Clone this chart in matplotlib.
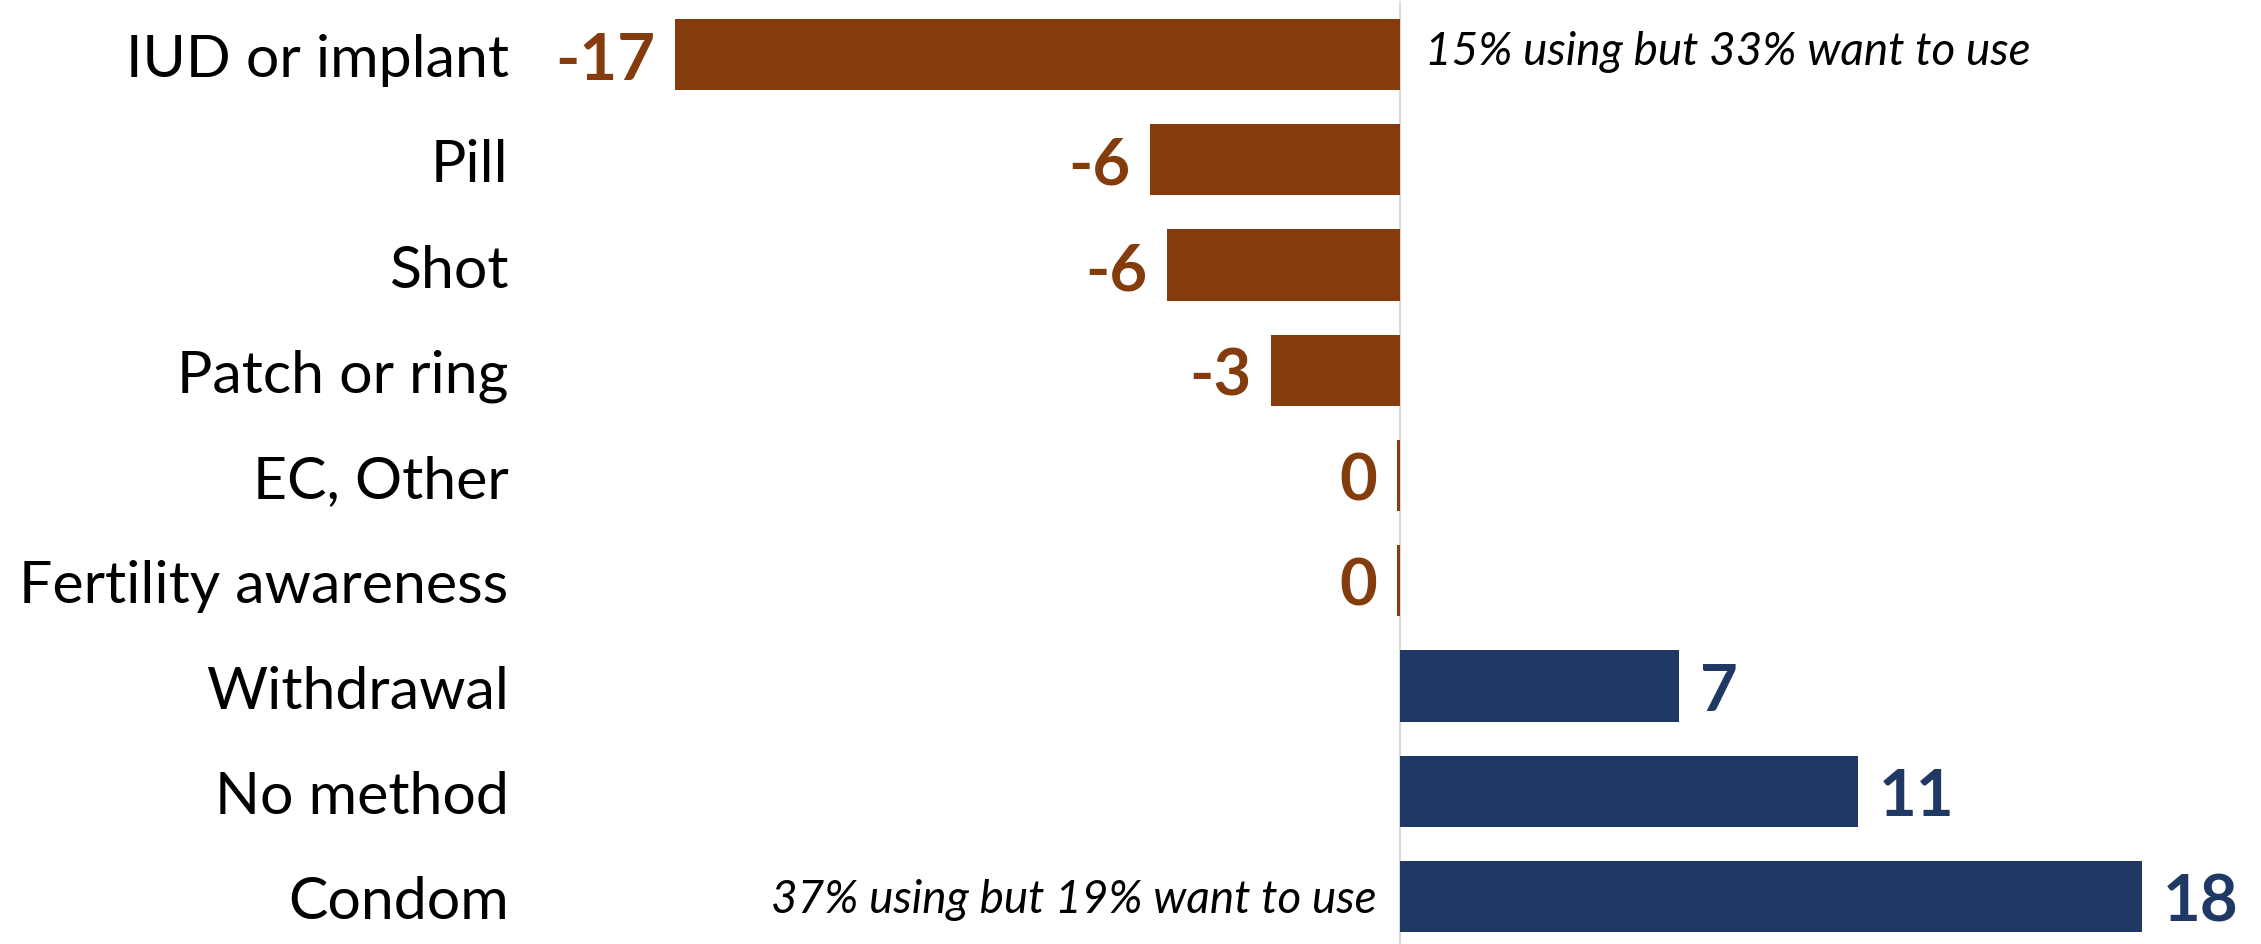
import matplotlib.pyplot as plt

plt.rcParams['font.family'] = ['Lato', 'DejaVu Sans']

# gap between share wanting a method and share using it (percentage points)
methods = ['IUD or implant', 'Pill', 'Shot', 'Patch or ring', 'EC, Other',
           'Fertility awareness', 'Withdrawal', 'No method', 'Condom']
gap = [-17.4, -6.0, -5.6, -3.1, -0.08, -0.08, 6.7, 11.0, 17.8]
note_methods = ['IUD or implant', 'Condom']
note_texts = ['15% using but 33% want to use', '37% using but 19% want to use']

brown = '#843C0C'
navy = '#203864'

W, H = 2261, 945
fig = plt.figure(figsize=(W / 100, H / 100), dpi=100)

# pixel layout of the plotting area
zero_x = 1400
px_per_unit = 41.67
left_px = 560
first_row = 55.5
row_step = 105.25

ax = fig.add_axes([left_px / W, 0, 1 - left_px / W, 1])
ax.set_xlim((left_px - zero_x) / px_per_unit, (W - zero_x) / px_per_unit)
ax.set_ylim((H - first_row) / row_step, -first_row / row_step)
ax.axis('off')

# zero line
ax.axvline(0, ymin=0, ymax=1 - 3 / H, color='#d9d9d9', lw=1.5, zorder=0)

ypos = list(range(len(methods)))
colors = [brown if v < 0 else navy for v in gap]
ax.barh(ypos, gap, height=0.675, color=colors, zorder=2)

ytf = ax.get_yaxis_transform()
for i, (name, v) in enumerate(zip(methods, gap)):
    # category label, cap-height centred on the bar
    ax.annotate(name, xy=(0, i), xycoords=ytf, xytext=(-37, -15.5),
                textcoords='offset points', ha='right', va='baseline',
                fontsize=42.5, color='black')
    # value label
    lbl = f'{int(round(v))}'
    if v < 0:
        ax.annotate(lbl, xy=(v, i), xytext=(-14, -17.3), textcoords='offset points',
                    ha='right', va='baseline', fontsize=47, fontweight='bold', color=brown)
    else:
        ax.annotate(lbl, xy=(v, i), xytext=(15, -17.3), textcoords='offset points',
                    ha='left', va='baseline', fontsize=47, fontweight='bold', color=navy)

# side notes: right of the zero line for the top row, left of it for the bottom row
for name, txt in zip(note_methods, note_texts):
    i = methods.index(name)
    if gap[i] < 0:
        ax.annotate(txt, xy=(0, i), xytext=(18, -7), textcoords='offset points',
                    ha='left', va='baseline', fontsize=33, style='italic', color='black')
    else:
        ax.annotate(txt, xy=(0, i), xytext=(-16.5, -11.5), textcoords='offset points',
                    ha='right', va='baseline', fontsize=33, style='italic', color='black')

fig.savefig('out.png', dpi=100, facecolor='white')
